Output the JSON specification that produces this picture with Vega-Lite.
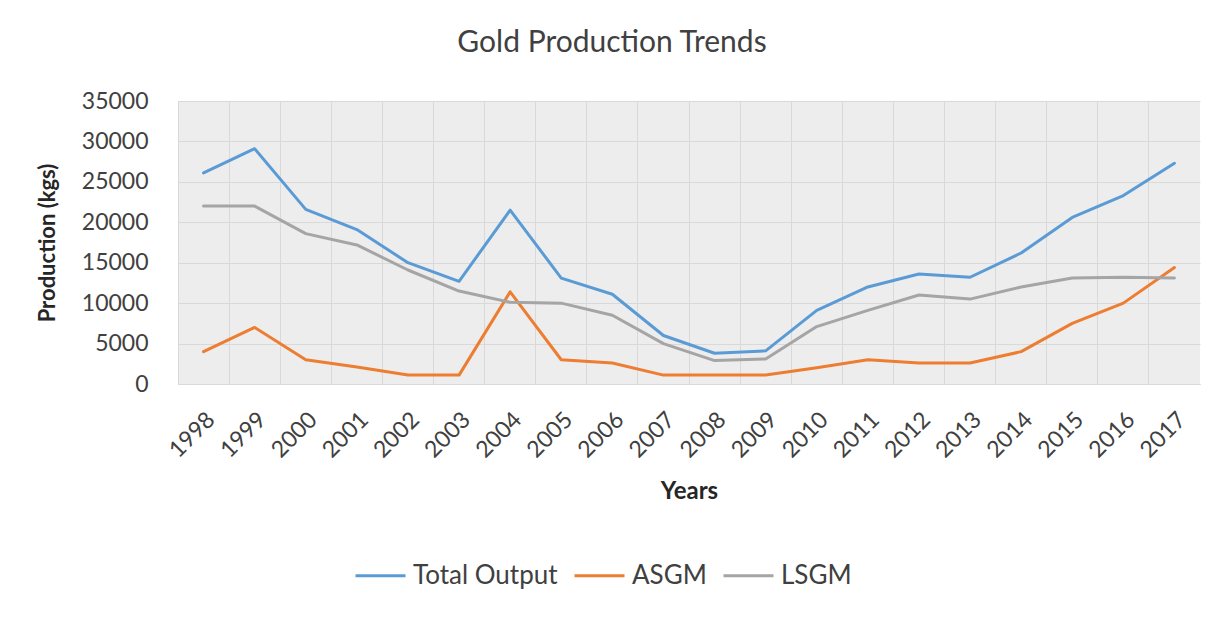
{
  "$schema": "https://vega.github.io/schema/vega-lite/v6.json",
  "autosize": {"type": "none"},
  "width": 1022,
  "height": 283,
  "padding": {"left": 178, "top": 101, "right": 28, "bottom": 233},
  "background": "white",
  "config": {
    "font": "Lato",
    "view": {"fill": "#ededed", "stroke": null},
    "axis": {"labelFont": "Lato", "titleFont": "Lato"}
  },
  "title": {
    "text": "Gold Production Trends",
    "font": "Lato",
    "fontSize": 30,
    "fontWeight": "normal",
    "color": "#404040",
    "anchor": "middle",
    "dx": -77,
    "offset": 32
  },
  "data": {
    "values": [
      {"year": "1998", "series": "Total Output", "value": 26100},
      {"year": "1999", "series": "Total Output", "value": 29100},
      {"year": "2000", "series": "Total Output", "value": 21600},
      {"year": "2001", "series": "Total Output", "value": 19100},
      {"year": "2002", "series": "Total Output", "value": 15000},
      {"year": "2003", "series": "Total Output", "value": 12700},
      {"year": "2004", "series": "Total Output", "value": 21500},
      {"year": "2005", "series": "Total Output", "value": 13100},
      {"year": "2006", "series": "Total Output", "value": 11100},
      {"year": "2007", "series": "Total Output", "value": 6000},
      {"year": "2008", "series": "Total Output", "value": 3800},
      {"year": "2009", "series": "Total Output", "value": 4100},
      {"year": "2010", "series": "Total Output", "value": 9100},
      {"year": "2011", "series": "Total Output", "value": 12000},
      {"year": "2012", "series": "Total Output", "value": 13600},
      {"year": "2013", "series": "Total Output", "value": 13200},
      {"year": "2014", "series": "Total Output", "value": 16200},
      {"year": "2015", "series": "Total Output", "value": 20600},
      {"year": "2016", "series": "Total Output", "value": 23300},
      {"year": "2017", "series": "Total Output", "value": 27300},
      {"year": "1998", "series": "ASGM", "value": 4000},
      {"year": "1999", "series": "ASGM", "value": 7000},
      {"year": "2000", "series": "ASGM", "value": 3000},
      {"year": "2001", "series": "ASGM", "value": 2100},
      {"year": "2002", "series": "ASGM", "value": 1100},
      {"year": "2003", "series": "ASGM", "value": 1100},
      {"year": "2004", "series": "ASGM", "value": 11400},
      {"year": "2005", "series": "ASGM", "value": 3000},
      {"year": "2006", "series": "ASGM", "value": 2600},
      {"year": "2007", "series": "ASGM", "value": 1100},
      {"year": "2008", "series": "ASGM", "value": 1100},
      {"year": "2009", "series": "ASGM", "value": 1100},
      {"year": "2010", "series": "ASGM", "value": 2000},
      {"year": "2011", "series": "ASGM", "value": 3000},
      {"year": "2012", "series": "ASGM", "value": 2600},
      {"year": "2013", "series": "ASGM", "value": 2600},
      {"year": "2014", "series": "ASGM", "value": 4000},
      {"year": "2015", "series": "ASGM", "value": 7500},
      {"year": "2016", "series": "ASGM", "value": 10000},
      {"year": "2017", "series": "ASGM", "value": 14400},
      {"year": "1998", "series": "LSGM", "value": 22000},
      {"year": "1999", "series": "LSGM", "value": 22000},
      {"year": "2000", "series": "LSGM", "value": 18600},
      {"year": "2001", "series": "LSGM", "value": 17200},
      {"year": "2002", "series": "LSGM", "value": 14100},
      {"year": "2003", "series": "LSGM", "value": 11500},
      {"year": "2004", "series": "LSGM", "value": 10100},
      {"year": "2005", "series": "LSGM", "value": 10000},
      {"year": "2006", "series": "LSGM", "value": 8500},
      {"year": "2007", "series": "LSGM", "value": 5000},
      {"year": "2008", "series": "LSGM", "value": 2900},
      {"year": "2009", "series": "LSGM", "value": 3100},
      {"year": "2010", "series": "LSGM", "value": 7100},
      {"year": "2011", "series": "LSGM", "value": 9100},
      {"year": "2012", "series": "LSGM", "value": 11000},
      {"year": "2013", "series": "LSGM", "value": 10500},
      {"year": "2014", "series": "LSGM", "value": 12000},
      {"year": "2015", "series": "LSGM", "value": 13100},
      {"year": "2016", "series": "LSGM", "value": 13200},
      {"year": "2017", "series": "LSGM", "value": 13100}
    ]
  },
  "layer": [
    {
      "mark": {"type": "point", "opacity": 0},
      "encoding": {
        "x": {
          "field": "year",
          "type": "ordinal",
          "scale": {"type": "band", "paddingInner": 0, "paddingOuter": 0},
          "axis": {
            "orient": "bottom",
            "bandPosition": 0,
            "grid": true,
            "gridColor": "#d9d9d9",
            "gridWidth": 1,
            "labels": false,
            "ticks": false,
            "domain": false,
            "title": null
          }
        },
        "y": {"field": "value", "type": "quantitative"}
      }
    },
    {
      "mark": {"type": "line", "strokeWidth": 3, "strokeCap": "round", "strokeJoin": "round"},
      "encoding": {
        "x": {
          "field": "year",
          "type": "ordinal",
          "scale": {"type": "band", "paddingInner": 0, "paddingOuter": 0},
          "axis": {
            "orient": "bottom",
            "title": "Years",
            "titleFontSize": 24,
            "titleFontWeight": "bold",
            "titleColor": "#262626",
            "titlePadding": 18,
            "labelAngle": -45,
            "labelFontSize": 23,
            "labelColor": "#404040",
            "labelPadding": 24,
            "ticks": false,
            "grid": false,
            "domain": true,
            "domainColor": "#d9d9d9",
            "domainWidth": 1
          }
        },
        "y": {
          "field": "value",
          "type": "quantitative",
          "scale": {"domain": [0, 35000], "nice": false},
          "axis": {
            "title": "Production (kgs)",
            "titleFontSize": 22,
            "titleFontWeight": "bold",
            "titleColor": "#262626",
            "titlePadding": 22,
            "values": [0, 5000, 10000, 15000, 20000, 25000, 30000, 35000],
            "format": "d",
            "labelFontSize": 23,
            "labelColor": "#404040",
            "labelPadding": 30,
            "ticks": false,
            "domain": false,
            "grid": true,
            "gridColor": "#d9d9d9",
            "gridWidth": 1
          }
        },
        "color": {
          "field": "series",
          "type": "nominal",
          "scale": {
            "domain": ["Total Output", "ASGM", "LSGM"],
            "range": ["#5b9bd5", "#ed7d31", "#a5a5a5"]
          },
          "legend": {
            "title": null,
            "orient": "none",
            "direction": "horizontal",
            "legendX": 176,
            "legendY": 448,
            "symbolType": "stroke",
            "symbolSize": 2500,
            "symbolStrokeWidth": 3,
            "labelFontSize": 26,
            "labelColor": "#404040",
            "labelOffset": 6,
            "columnPadding": 10
          }
        }
      }
    }
  ],
  "resolve": {"axis": {"x": "independent"}}
}
